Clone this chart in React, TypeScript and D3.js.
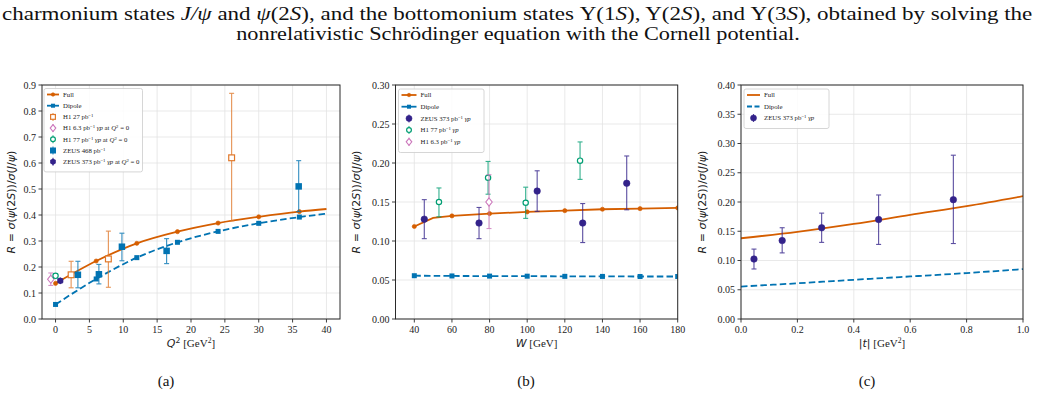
import React, { useLayoutEffect, useRef, useState } from "react";
import * as d3 from "d3";

// ---------- panel (a): R versus Q^2 ----------
const aCurveQ2 = [0, 6, 12, 18, 24, 30, 36, 40];
const aFullR = [0.137, 0.223, 0.291, 0.336, 0.369, 0.393, 0.413, 0.423];
const aDipoleR = [0.056, 0.154, 0.236, 0.295, 0.337, 0.368, 0.392, 0.405];
const aMarkerQ2 = [0, 6, 12, 18, 24, 30, 36];

const aH1_27_Q2 = [2.3, 7.8, 26.0];
const aH1_27_R = [0.17, 0.231, 0.62];
const aH1_27_Up = [0.052, 0.107, 0.248];
const aH1_27_Dn = [0.05, 0.109, 0.242];

const aH1_63_Q2 = [-0.7];
const aH1_63_R = [0.153];
const aH1_63_Err = [0.024];

const aH1_77_Q2 = [0];
const aH1_77_R = [0.166];
const aH1_77_Err = [0.008];

const aZeus468_Q2 = [3.3, 6.4, 9.8, 16.4, 35.9];
const aZeus468_R = [0.17, 0.172, 0.278, 0.262, 0.51];
const aZeus468_Up = [0.052, 0.038, 0.052, 0.047, 0.099];
const aZeus468_Dn = [0.05, 0.037, 0.054, 0.049, 0.097];

const aZeus373_Q2 = [0.7];
const aZeus373_R = [0.147];
const aZeus373_Err = [0.008];

const aXTicks = [0, 5, 10, 15, 20, 25, 30, 35, 40];
const aYTicks = [0, 0.1, 0.2, 0.3, 0.4, 0.5, 0.6, 0.7, 0.8, 0.9];

// ---------- panel (b): R versus W ----------
const bFullW = [40, 50, 60, 80, 100, 120, 140, 160, 180];
const bFullR = [0.1186, 0.1297, 0.1322, 0.1351, 0.1373, 0.1389, 0.1407, 0.1415, 0.1424];
const bMarkerW = [40, 60, 80, 100, 120, 140, 160, 180];
const bDipoleW = [40, 60, 80, 100, 120, 140, 160, 180];
const bDipoleR = [0.0555, 0.0552, 0.055, 0.0549, 0.0547, 0.0546, 0.0545, 0.0545];

const bZeus373_W = [45.3, 74.4, 105.3, 129.5, 152.9];
const bZeus373_R = [0.128, 0.123, 0.164, 0.123, 0.174];
const bZeus373_Up = [0.025, 0.02, 0.026, 0.025, 0.035];
const bZeus373_Dn = [0.025, 0.02, 0.026, 0.025, 0.034];

const bH1_77_W = [53.1, 79.2, 99.2, 128.1];
const bH1_77_R = [0.15, 0.181, 0.149, 0.203];
const bH1_77_Up = [0.018, 0.021, 0.02, 0.024];
const bH1_77_Dn = [0.019, 0.021, 0.02, 0.024];

const bH1_63_W = [79.7];
const bH1_63_R = [0.15];
const bH1_63_Up = [0.035];
const bH1_63_Dn = [0.034];

const bXTicks = [40, 60, 80, 100, 120, 140, 160, 180];
const bYTicks = [0, 0.05, 0.1, 0.15, 0.2, 0.25, 0.3];

// ---------- panel (c): R versus |t| ----------
const cT = [0, 0.2, 0.4, 0.6, 0.8, 1.0];
const cFullR = [0.138, 0.149, 0.1625, 0.178, 0.193, 0.21];
const cDipoleR = [0.0555, 0.061, 0.067, 0.0727, 0.0785, 0.0853];

const cZeus373_T = [0.046, 0.146, 0.286, 0.488, 0.753];
const cZeus373_R = [0.1025, 0.134, 0.156, 0.17, 0.204];
const cZeus373_Up = [0.017, 0.022, 0.025, 0.042, 0.076];
const cZeus373_Dn = [0.017, 0.021, 0.025, 0.0425, 0.075];

const cXTicks = [0, 0.2, 0.4, 0.6, 0.8, 1.0];
const cYTicks = [0, 0.05, 0.1, 0.15, 0.2, 0.25, 0.3, 0.35, 0.4];

// ---------- styling ----------
const C = {
  full: "#D55E00",
  dipole: "#0173B2",
  h1_27: "#E0782A",
  h1_63: "#CC78BC",
  h1_77: "#029E73",
  zeus468: "#0173B2",
  zeus373: "#33228A",
};
const SERIF = "'Liberation Serif', 'Times New Roman', serif";
const SANS = "'DejaVu Sans', sans-serif";
const TOP = 85;
const BOTTOM = 319;

type Seg = { t: string; i?: boolean; sup?: boolean; f?: string };
type MarkerKind = "circle" | "square" | "openSquare" | "openCircle" | "openDiamond" | "hexagon";

function Rich({ segs }: { segs: Seg[] }) {
  return (
    <>
      {segs.map((s, k) => (
        <tspan
          key={k}
          fontStyle={s.i ? "italic" : undefined}
          fontFamily={s.f}
          baselineShift={s.sup ? "super" : undefined}
          fontSize={s.sup ? "70%" : undefined}
        >
          {s.t}
        </tspan>
      ))}
    </>
  );
}

// A line of text stretched horizontally so that it spans a given width.
function FitText({ x, y, width, anchor, fontSize, children }: { x: number; y: number; width: number; anchor: "start" | "middle"; fontSize: number; children: React.ReactNode }) {
  const ref = useRef<SVGTextElement>(null);
  const [k, setK] = useState(1);
  useLayoutEffect(() => {
    if (ref.current) {
      const w = ref.current.getComputedTextLength();
      if (w > 0) setK(width / w);
    }
  }, [width]);
  return (
    <text ref={ref} transform={`translate(${x},${y}) scale(${k},1)`} textAnchor={anchor} fontFamily={SERIF} fontSize={fontSize} fill="#111">
      {children}
    </text>
  );
}

function Marker({ kind, x, y, color, size }: { kind: MarkerKind; x: number; y: number; color: string; size: number }) {
  const h = size / 2;
  switch (kind) {
    case "circle":
      return <circle cx={x} cy={y} r={h} fill={color} stroke={color} strokeWidth={0.6} />;
    case "square":
      return <rect x={x - h} y={y - h} width={size} height={size} fill={color} />;
    case "openSquare":
      return <rect x={x - h + 0.6} y={y - h + 0.6} width={size - 1.2} height={size - 1.2} fill="white" stroke={color} strokeWidth={1.2} />;
    case "openCircle":
      return <circle cx={x} cy={y} r={h - 0.6} fill="white" stroke={color} strokeWidth={1.2} />;
    case "openDiamond":
      return (
        <path
          d={`M${x},${y - h} L${x + h * 0.8},${y} L${x},${y + h} L${x - h * 0.8},${y} Z`}
          fill="white"
          stroke={color}
          strokeWidth={1.1}
        />
      );
    case "hexagon": {
      const pts = d3.range(6).map((k) => {
        const a = (Math.PI / 3) * k + Math.PI / 6;
        return `${x + h * Math.cos(a)},${y + h * Math.sin(a)}`;
      });
      return <polygon points={pts.join(" ")} fill={color} />;
    }
  }
}

type Scale = d3.ScaleLinear<number, number>;

function ErrorSeries({
  xs, ys, up, dn, sx, sy, color, kind, size, barOpacity = 0.8,
}: {
  xs: number[]; ys: number[]; up: number[]; dn: number[]; sx: Scale; sy: Scale;
  color: string; kind: MarkerKind; size: number; barOpacity?: number;
}) {
  return (
    <g>
      {xs.map((xv, i) => {
        const x = sx(xv);
        const y0 = sy(ys[i] + up[i]);
        const y1 = sy(ys[i] - dn[i]);
        return (
          <g key={i} stroke={color} strokeWidth={1.1} opacity={barOpacity}>
            <line x1={x} x2={x} y1={y0} y2={y1} />
            <line x1={x - 2.5} x2={x + 2.5} y1={y0} y2={y0} />
            <line x1={x - 2.5} x2={x + 2.5} y1={y1} y2={y1} />
          </g>
        );
      })}
      {xs.map((xv, i) => (
        <Marker key={i} kind={kind} x={sx(xv)} y={sy(ys[i])} color={color} size={size} />
      ))}
    </g>
  );
}

function Curve({
  xs, ys, sx, sy, color, dashed, curve, markers, markerKind, markerSize,
}: {
  xs: number[]; ys: number[]; sx: Scale; sy: Scale; color: string; dashed?: boolean;
  curve: d3.CurveFactory; markers?: number[]; markerKind?: MarkerKind; markerSize?: number;
}) {
  const pts = xs.map((x, i) => [x, ys[i]] as [number, number]);
  const path = d3
    .line<[number, number]>()
    .x((d) => sx(d[0]))
    .y((d) => sy(d[1]))
    .curve(curve)(pts);
  return (
    <g>
      <path d={path || ""} fill="none" stroke={color} strokeWidth={1.8} strokeDasharray={dashed ? "6.5,3.2" : undefined} />
      {markers &&
        markers.map((m, k) => {
          const i = xs.indexOf(m);
          return <Marker key={k} kind={markerKind || "circle"} x={sx(m)} y={sy(ys[i])} color={color} size={markerSize || 4} />;
        })}
    </g>
  );
}

type LegendItem = { label: Seg[]; type: "line" | "dash" | "err"; color: string; marker?: MarkerKind; size?: number };

function Legend({ x, y, w, items, rowH, handleW, fs }: { x: number; y: number; w: number; items: LegendItem[]; rowH: number; handleW: number; fs: number }) {
  const h = items.length * rowH + 5;
  return (
    <g>
      <rect x={x} y={y} width={w} height={h} rx={2} fill="white" fillOpacity={0.85} stroke="#cccccc" strokeWidth={0.8} />
      {items.map((it, k) => {
        const cy = y + 6 + k * rowH;
        const hx0 = x + 3;
        const hx1 = hx0 + handleW;
        const hc = (hx0 + hx1) / 2;
        return (
          <g key={k}>
            {it.type !== "err" && (
              <line x1={hx0} x2={hx1} y1={cy} y2={cy} stroke={it.color} strokeWidth={1.8} strokeDasharray={it.type === "dash" ? "5,2.5" : undefined} />
            )}
            {it.type === "err" && (
              <line x1={hc} x2={hc} y1={cy - 4} y2={cy + 4} stroke={it.color} strokeWidth={1.1} opacity={0.8} />
            )}
            {it.marker && <Marker kind={it.marker} x={hc} y={cy} color={it.color} size={it.size || 4} />}
            <text x={hx1 + 4} y={cy + fs * 0.35} fontFamily={SERIF} fontSize={fs} fill="#222">
              <Rich segs={it.label} />
            </text>
          </g>
        );
      })}
    </g>
  );
}

const yLabelSegs: Seg[] = [
  { t: "R", i: true },
  { t: " = " },
  { t: "σ", i: true },
  { t: "(" },
  { t: "ψ", i: true },
  { t: "(2" },
  { t: "S", i: true },
  { t: "))/" },
  { t: "σ", i: true },
  { t: "(" },
  { t: "J", i: true },
  { t: "/" },
  { t: "ψ", i: true },
  { t: ")" },
];

function Axes({
  left, right, sx, sy, xTicks, yTicks, xFmt, yFmt, xLabel, yLabelX, id, children,
}: {
  left: number; right: number; sx: Scale; sy: Scale; xTicks: number[]; yTicks: number[];
  xFmt: (v: number) => string; yFmt: (v: number) => string; xLabel: Seg[]; yLabelX: number; id: string;
  children: React.ReactNode;
}) {
  const midY = (TOP + BOTTOM) / 2;
  return (
    <g>
      <defs>
        <clipPath id={id}>
          <rect x={left} y={TOP} width={right - left} height={BOTTOM - TOP} />
        </clipPath>
      </defs>
      {xTicks.map((t) => (
        <line key={"gx" + t} x1={sx(t)} x2={sx(t)} y1={TOP} y2={BOTTOM} stroke="#e3e3e3" strokeWidth={0.8} />
      ))}
      {yTicks.map((t) => (
        <line key={"gy" + t} x1={left} x2={right} y1={sy(t)} y2={sy(t)} stroke="#e3e3e3" strokeWidth={0.8} />
      ))}
      <g clipPath={`url(#${id})`}>{children}</g>
      <rect x={left} y={TOP} width={right - left} height={BOTTOM - TOP} fill="none" stroke="#2a2a2a" strokeWidth={1} />
      {xTicks.map((t) => (
        <g key={"tx" + t}>
          <line x1={sx(t)} x2={sx(t)} y1={BOTTOM} y2={BOTTOM + 3.5} stroke="#2a2a2a" strokeWidth={0.9} />
          <text x={sx(t)} y={BOTTOM + 14} textAnchor="middle" fontFamily={SERIF} fontSize={10} fill="#222">
            {xFmt(t)}
          </text>
        </g>
      ))}
      {yTicks.map((t) => (
        <g key={"ty" + t}>
          <line x1={left - 3.5} x2={left} y1={sy(t)} y2={sy(t)} stroke="#2a2a2a" strokeWidth={0.9} />
          <text x={left - 6} y={sy(t) + 3.5} textAnchor="end" fontFamily={SERIF} fontSize={10} fill="#222">
            {yFmt(t)}
          </text>
        </g>
      ))}
      <text x={(left + right) / 2} y={BOTTOM + 28} textAnchor="middle" fontFamily={SERIF} fontSize={11} fill="#222">
        <Rich segs={xLabel} />
      </text>
      <text
        transform={`translate(${yLabelX},${midY}) rotate(-90)`}
        textAnchor="middle"
        fontFamily={SANS}
        fontSize={11}
        fill="#222"
      >
        <Rich segs={yLabelSegs} />
      </text>
    </g>
  );
}

const pb = (rest: Seg[] = []): Seg[] => [{ t: "pb" }, { t: "−1", sup: true }, ...rest];

export default function App() {
  // panel (a)
  const aL = 42, aR = 340;
  const ax = d3.scaleLinear().domain([-2, 42]).range([aL, aR]);
  const ay = d3.scaleLinear().domain([0, 0.9]).range([BOTTOM, TOP]);
  // panel (b)
  const bL = 395.5, bR = 677.7;
  const bx = d3.scaleLinear().domain([30, 180]).range([bL, bR]);
  const by = d3.scaleLinear().domain([0, 0.3]).range([BOTTOM, TOP]);
  // panel (c)
  const cL = 741, cR = 1023;
  const cx = d3.scaleLinear().domain([0, 1]).range([cL, cR]);
  const cy = d3.scaleLinear().domain([0, 0.4]).range([BOTTOM, TOP]);

  const f1 = d3.format(".1f");
  const f2 = d3.format(".2f");
  const f0 = d3.format("d");

  const gp: Seg[] = [{ t: " " }, { t: "γp", i: true }];
  const atQ0: Seg[] = [{ t: " at " }, { t: "Q", i: true }, { t: "2", sup: true }, { t: " = 0" }];

  const legendA: LegendItem[] = [
    { label: [{ t: "Full" }], type: "line", color: C.full, marker: "circle", size: 3.5 },
    { label: [{ t: "Dipole" }], type: "line", color: C.dipole, marker: "square", size: 4 },
    { label: [{ t: "H1 27 " }, ...pb()], type: "err", color: C.h1_27, marker: "openSquare", size: 6 },
    { label: [{ t: "H1 6.3 " }, ...pb([...gp, ...atQ0])], type: "err", color: C.h1_63, marker: "openDiamond", size: 7 },
    { label: [{ t: "H1 77 " }, ...pb([...gp, ...atQ0])], type: "err", color: C.h1_77, marker: "openCircle", size: 6 },
    { label: [{ t: "ZEUS 468 " }, ...pb()], type: "err", color: C.zeus468, marker: "square", size: 6 },
    { label: [{ t: "ZEUS 373 " }, ...pb([...gp, ...atQ0])], type: "err", color: C.zeus373, marker: "hexagon", size: 6.5 },
  ];
  const legendB: LegendItem[] = [
    { label: [{ t: "Full" }], type: "line", color: C.full, marker: "circle", size: 3.5 },
    { label: [{ t: "Dipole" }], type: "line", color: C.dipole, marker: "square", size: 4 },
    { label: [{ t: "ZEUS 373 " }, ...pb(gp)], type: "err", color: C.zeus373, marker: "circle", size: 6 },
    { label: [{ t: "H1 77 " }, ...pb(gp)], type: "err", color: C.h1_77, marker: "openCircle", size: 6 },
    { label: [{ t: "H1 6.3 " }, ...pb(gp)], type: "err", color: C.h1_63, marker: "openDiamond", size: 7 },
  ];
  const legendC: LegendItem[] = [
    { label: [{ t: "Full" }], type: "line", color: C.full },
    { label: [{ t: "Dipole" }], type: "dash", color: C.dipole },
    { label: [{ t: "ZEUS 373 " }, ...pb(gp)], type: "err", color: C.zeus373, marker: "circle", size: 6 },
  ];

  return (
    <svg width={1037} height={418} style={{ position: "absolute", left: 0, top: 0, display: "block" }} viewBox="0 0 1037 418">
      <rect x={0} y={0} width={1037} height={418} fill="white" />

      {/* running text above the figure */}
      <FitText x={2} y={20} width={1031} anchor="start" fontSize={18.5}>
        <Rich
          segs={[
            { t: "charmonium states " },
            { t: "J/ψ", i: true },
            { t: " and " },
            { t: "ψ", i: true },
            { t: "(2" },
            { t: "S", i: true },
            { t: "), and the bottomonium states Υ(1" },
            { t: "S", i: true },
            { t: "), Υ(2" },
            { t: "S", i: true },
            { t: "), and Υ(3" },
            { t: "S", i: true },
            { t: "), obtained by solving the" },
          ]}
        />
      </FitText>
      <FitText x={518} y={40} width={564} anchor="middle" fontSize={18.5}>
        nonrelativistic Schrödinger equation with the Cornell potential.
      </FitText>

      {/* (a) */}
      <Axes left={aL} right={aR} sx={ax} sy={ay} xTicks={aXTicks} yTicks={aYTicks} xFmt={f0} yFmt={f1}
        xLabel={[{ t: "Q", i: true, f: SANS }, { t: "2", sup: true, f: SANS }, { t: " [GeV" }, { t: "2", sup: true }, { t: "]" }]}
        yLabelX={15} id="clipA">
        <Curve xs={aCurveQ2} ys={aDipoleR} sx={ax} sy={ay} color={C.dipole} dashed curve={d3.curveMonotoneX} markers={aMarkerQ2} markerKind="square" markerSize={5} />
        <Curve xs={aCurveQ2} ys={aFullR} sx={ax} sy={ay} color={C.full} curve={d3.curveMonotoneX} markers={aMarkerQ2} markerKind="circle" markerSize={4.2} />
        <ErrorSeries xs={aH1_27_Q2} ys={aH1_27_R} up={aH1_27_Up} dn={aH1_27_Dn} sx={ax} sy={ay} color={C.h1_27} kind="openSquare" size={7} />
        <ErrorSeries xs={aH1_63_Q2} ys={aH1_63_R} up={aH1_63_Err} dn={aH1_63_Err} sx={ax} sy={ay} color={C.h1_63} kind="openDiamond" size={8} />
        <ErrorSeries xs={aH1_77_Q2} ys={aH1_77_R} up={aH1_77_Err} dn={aH1_77_Err} sx={ax} sy={ay} color={C.h1_77} kind="openCircle" size={6.5} />
        <ErrorSeries xs={aZeus468_Q2} ys={aZeus468_R} up={aZeus468_Up} dn={aZeus468_Dn} sx={ax} sy={ay} color={C.zeus468} kind="square" size={6.5} />
        <ErrorSeries xs={aZeus373_Q2} ys={aZeus373_R} up={aZeus373_Err} dn={aZeus373_Err} sx={ax} sy={ay} color={C.zeus373} kind="hexagon" size={7} />
      </Axes>
      <Legend x={44} y={88.5} w={98.5} items={legendA} rowH={11.2} handleW={12} fs={6.8} />

      {/* (b) */}
      <Axes left={bL} right={bR} sx={bx} sy={by} xTicks={bXTicks} yTicks={bYTicks} xFmt={f0} yFmt={f2}
        xLabel={[{ t: "W", i: true, f: SANS }, { t: " [GeV]" }]}
        yLabelX={360} id="clipB">
        <Curve xs={bDipoleW} ys={bDipoleR} sx={bx} sy={by} color={C.dipole} dashed curve={d3.curveLinear} markers={bDipoleW} markerKind="square" markerSize={5} />
        <Curve xs={bFullW} ys={bFullR} sx={bx} sy={by} color={C.full} curve={d3.curveLinear} markers={bMarkerW} markerKind="circle" markerSize={4.2} />
        <ErrorSeries xs={bZeus373_W} ys={bZeus373_R} up={bZeus373_Up} dn={bZeus373_Dn} sx={bx} sy={by} color={C.zeus373} kind="circle" size={6.5} />
        <ErrorSeries xs={bH1_77_W} ys={bH1_77_R} up={bH1_77_Up} dn={bH1_77_Dn} sx={bx} sy={by} color={C.h1_77} kind="openCircle" size={6.5} />
        <ErrorSeries xs={bH1_63_W} ys={bH1_63_R} up={bH1_63_Up} dn={bH1_63_Dn} sx={bx} sy={by} color={C.h1_63} kind="openDiamond" size={8} />
      </Axes>
      <Legend x={398.5} y={89} w={85.5} items={legendB} rowH={11.7} handleW={15} fs={6.8} />

      {/* (c) */}
      <Axes left={cL} right={cR} sx={cx} sy={cy} xTicks={cXTicks} yTicks={cYTicks} xFmt={f1} yFmt={f2}
        xLabel={[{ t: "|", f: SANS }, { t: "t", i: true, f: SANS }, { t: "|", f: SANS }, { t: " [GeV" }, { t: "2", sup: true }, { t: "]" }]}
        yLabelX={706} id="clipC">
        <Curve xs={cT} ys={cDipoleR} sx={cx} sy={cy} color={C.dipole} dashed curve={d3.curveMonotoneX} />
        <Curve xs={cT} ys={cFullR} sx={cx} sy={cy} color={C.full} curve={d3.curveMonotoneX} />
        <ErrorSeries xs={cZeus373_T} ys={cZeus373_R} up={cZeus373_Up} dn={cZeus373_Dn} sx={cx} sy={cy} color={C.zeus373} kind="circle" size={6.5} />
      </Axes>
      <Legend x={744} y={89} w={85} items={legendC} rowH={11.5} handleW={13} fs={6.8} />

      {/* sub-figure captions */}
      <text x={166} y={386} textAnchor="middle" fontFamily={SERIF} fontSize={15} fill="#111">(a)</text>
      <text x={526} y={386} textAnchor="middle" fontFamily={SERIF} fontSize={15} fill="#111">(b)</text>
      <text x={867} y={386} textAnchor="middle" fontFamily={SERIF} fontSize={15} fill="#111">(c)</text>
    </svg>
  );
}
